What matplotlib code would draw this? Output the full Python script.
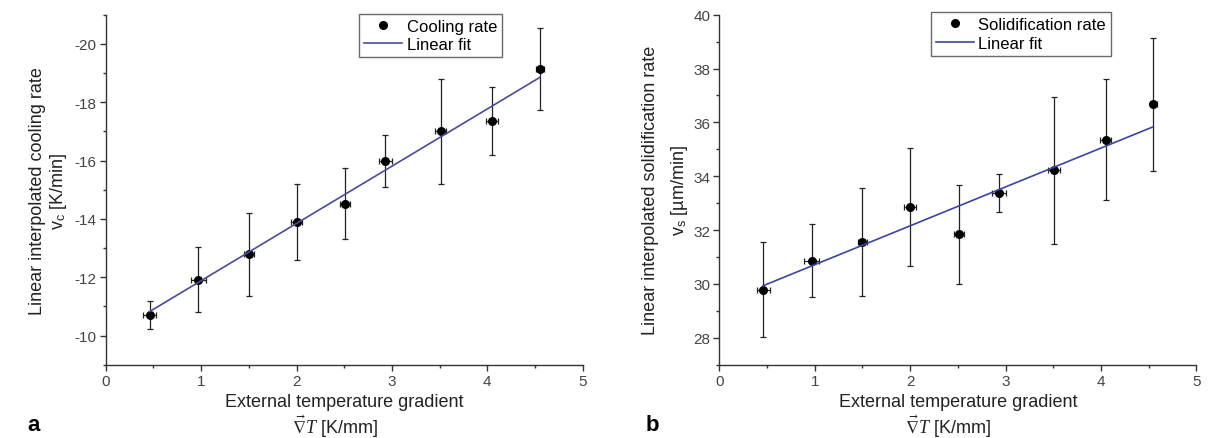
import numpy as np
import matplotlib
matplotlib.use("Agg")
import matplotlib.pyplot as plt
from matplotlib.ticker import MultipleLocator

plt.rcParams['font.family'] = ['Liberation Sans', 'DejaVu Sans']
plt.rcParams['axes.unicode_minus'] = False
plt.rcParams['mathtext.fontset'] = 'custom'
plt.rcParams['mathtext.rm'] = 'Liberation Sans'
plt.rcParams['mathtext.sf'] = 'Liberation Sans'
plt.rcParams['mathtext.it'] = 'Liberation Serif:italic'
plt.rcParams['mathtext.fallback'] = 'stix'

# data
gradient = [0.46, 0.97, 1.50, 2.00, 2.51, 2.93, 3.51, 4.05, 4.55]   # K/mm
gradient_err = [0.07, 0.08, 0.05, 0.06, 0.05, 0.07, 0.06, 0.06, 0.04]

cooling_rate = [-10.72, -11.92, -12.78, -13.89, -14.52, -15.97, -17.00, -17.35, -19.13]
cooling_err = [0.48, 1.11, 1.42, 1.30, 1.22, 0.89, 1.79, 1.16, 1.41]
cooling_fit = [-1.963, -9.917]   # slope, intercept

solid_rate = [29.79, 30.87, 31.56, 32.86, 31.85, 33.38, 34.22, 35.35, 36.67]
solid_err = [1.76, 1.36, 2.00, 2.20, 1.84, 0.71, 2.72, 2.25, 2.46]
solid_fit = [1.444, 29.27]

W, H = 1210, 439
fig = plt.figure(figsize=(W / 100, H / 100), dpi=100)

tick_col = '#444444'
spine_col = '#333333'


def make_panel(left_px, y, yerr, fit, fit_col, ylim, yl1, yl2, leg_label, leg_anchor, tag, tag_x):
    ax = fig.add_axes([left_px / W, (H - 365.7) / H, 477 / W, 350 / H])
    x = np.array(gradient)
    ax.errorbar(x, y, yerr=yerr, xerr=gradient_err, fmt='none', ecolor='#222222',
                elinewidth=0.9, capsize=2.4, capthick=0.9, zorder=2)
    ax.plot(x, y, 'o', color='black', markersize=5.5, label=leg_label, zorder=3)
    xf = np.array([x[0], x[-1]])
    ax.plot(xf, fit[0] * xf + fit[1], color=fit_col, lw=1.2, label='Linear fit', zorder=4)

    ax.set_xlim(0, 5)
    ax.set_ylim(*ylim)
    ax.xaxis.set_major_locator(MultipleLocator(1))
    ax.xaxis.set_minor_locator(MultipleLocator(0.5))
    ax.yaxis.set_major_locator(MultipleLocator(2))
    ax.yaxis.set_minor_locator(MultipleLocator(1))
    for s in ['top', 'right']:
        ax.spines[s].set_visible(False)
    for s in ['left', 'bottom']:
        ax.spines[s].set_color(spine_col)
        ax.spines[s].set_linewidth(1.0)
    ax.tick_params(which='major', direction='out', length=4.5, width=1.0,
                   color=spine_col, labelcolor=tick_col, labelsize=11, pad=2)
    ax.tick_params(which='minor', direction='out', length=2.5, width=1.0, color=spine_col)

    ax.text(-68.5 / 477, 0.5, yl1, transform=ax.transAxes, rotation=90,
            ha='center', va='center', fontsize=13, color='#222222')
    ax.text(yl2[1] / 477, 0.5, yl2[0], transform=ax.transAxes, rotation=90,
            ha='center', va='center', fontsize=13, color='#222222')
    ax.text(0.5, -37 / 350, 'External temperature gradient', transform=ax.transAxes,
            ha='center', va='center', fontsize=13, color='#222222')
    ax.text(0.48, -61 / 350, r'$\vec{\nabla}T$ [K/mm]', transform=ax.transAxes,
            ha='center', va='center', fontsize=13, color='#222222')
    fig.text(tag_x / W, 1 - 425.5 / H, tag, fontsize=16, fontweight='bold',
             ha='center', va='center')

    leg = ax.legend(loc='upper right', bbox_to_anchor=leg_anchor, bbox_transform=fig.transFigure,
                    fontsize=12, frameon=True, fancybox=False, borderaxespad=0,
                    borderpad=0.3, handlelength=2.3, handletextpad=0.25, labelspacing=0.2,
                    numpoints=1)
    leg.get_frame().set_edgecolor('#444444')
    leg.get_frame().set_linewidth(1.0)
    return ax


make_panel(105.7, cooling_rate, cooling_err, cooling_fit, '#4b4b96', (-9, -21),
           'Linear interpolated cooling rate', (r'v$_\mathsf{c}$ [K/min]', -47),
           'Cooling rate', (502 / W, 1 - 14.7 / H), 'a', 34)

make_panel(719.3, solid_rate, solid_err, solid_fit, '#3c449c', (27, 40),
           'Linear interpolated solidification rate', (r'v$_\mathsf{s}$ [µm/min]', -40),
           'Solidification rate', (1111 / W, 1 - 13.3 / H), 'b', 652)

fig.savefig('out.png', dpi=100)
